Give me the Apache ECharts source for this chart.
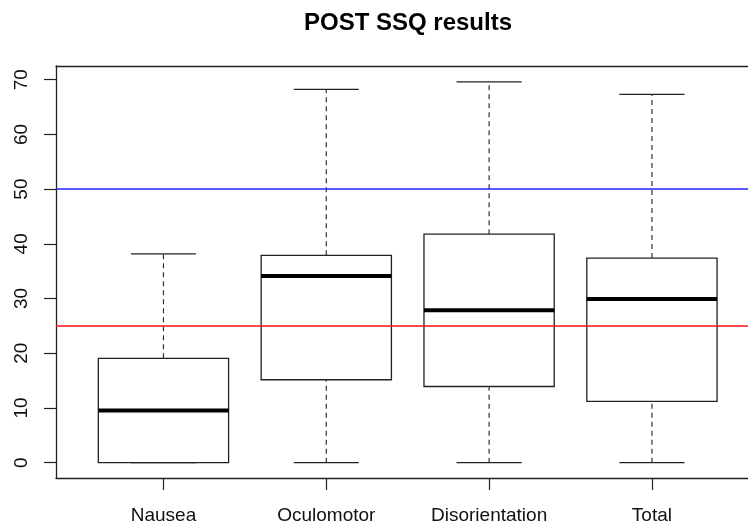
<!DOCTYPE html>
<html>
<head>
<meta charset="utf-8">
<script src="https://cdn.jsdelivr.net/npm/echarts@6/dist/echarts.min.js"></script>
<style>
  html, body { margin: 0; padding: 0; background: #fff; }
  #chart { width: 748px; height: 527px; }
</style>
</head>
<body>
<div id="chart"></div>
<script>
// SSQ subscale scores after exposure
const categories = ['Nausea', 'Oculomotor', 'Disorientation', 'Total'];
const whiskerLow  = [0, 0, 0, 0];
const lowerQuart  = [0, 15.16, 13.92, 11.22];
const medians     = [9.54, 34.11, 27.84, 29.92];
const upperQuart  = [19.08, 37.9, 41.76, 37.4];
const whiskerHigh = [38.16, 68.22, 69.6, 67.32];

// reference thresholds
const thresholdHigh = 50;
const thresholdLow = 25;

// axis tick values
const yTicks = [0, 10, 20, 30, 40, 50, 60, 70];
const xTicks = [1, 2, 3, 4];

const FONT = "'Liberation Sans', Arial, sans-serif";
const INK = '#222';

const rows = categories.map((c, i) => [i + 1, whiskerLow[i], lowerQuart[i], medians[i], upperQuart[i], whiskerHigh[i]]);

function renderBox(params, api) {
  const x = api.value(0);
  const lo = api.coord([x, api.value(1)]);
  const q1 = api.coord([x, api.value(2)]);
  const md = api.coord([x, api.value(3)]);
  const q3 = api.coord([x, api.value(4)]);
  const hi = api.coord([x, api.value(5)]);
  const boxW = api.size([0.8, 0])[0];
  const capW = boxW / 2;
  const cx = lo[0];
  const dashed = { stroke: '#333', lineWidth: 1.2, lineDash: [5, 4] };
  const solid = { stroke: INK, lineWidth: 1.3 };
  return {
    type: 'group',
    children: [
      { type: 'line', shape: { x1: cx, y1: q3[1], x2: cx, y2: hi[1] }, style: dashed },
      { type: 'line', shape: { x1: cx, y1: lo[1], x2: cx, y2: q1[1] }, style: dashed },
      { type: 'line', shape: { x1: cx - capW / 2, y1: hi[1], x2: cx + capW / 2, y2: hi[1] }, style: solid },
      { type: 'line', shape: { x1: cx - capW / 2, y1: lo[1], x2: cx + capW / 2, y2: lo[1] }, style: solid },
      { type: 'rect', shape: { x: cx - boxW / 2, y: q3[1], width: boxW, height: q1[1] - q3[1] },
        style: { fill: '#fff', stroke: INK, lineWidth: 1.3 } },
      { type: 'line', shape: { x1: cx - boxW / 2, y1: md[1], x2: cx + boxW / 2, y2: md[1] },
        style: { stroke: '#000', lineWidth: 4 } }
    ]
  };
}

const X_MIN = 0.34, X_MAX = 4.59;
const frameLine = { show: true, onZero: false, lineStyle: { color: INK, width: 1.3 } };

const chart = echarts.init(document.getElementById('chart'), null, { renderer: 'canvas' });
chart.setOption({
  animation: false,
  backgroundColor: '#fff',
  title: {
    text: 'POST SSQ results',
    left: 403,
    textAlign: 'center',
    top: 6,
    textStyle: { fontFamily: FONT, fontSize: 24, fontWeight: 'bold', color: '#000' }
  },
  grid: { left: 56, right: 0, top: 66, bottom: 49, show: false },
  xAxis: [
    {
      type: 'value', min: X_MIN, max: X_MAX, position: 'bottom',
      splitLine: { show: false },
      axisLine: frameLine,
      axisTick: { show: true, customValues: xTicks, length: 12, lineStyle: { color: INK, width: 1.2 } },
      axisLabel: {
        customValues: xTicks, margin: 28,
        formatter: v => categories[Math.round(v) - 1] || '',
        fontFamily: FONT, fontSize: 19, color: '#111'
      }
    },
    {
      // top edge of the plot frame
      type: 'value', min: X_MIN, max: X_MAX, position: 'top',
      splitLine: { show: false },
      axisLine: frameLine,
      axisTick: { show: false },
      axisLabel: { show: false }
    }
  ],
  yAxis: {
    type: 'value', min: -2.8, max: 72.5,
    splitLine: { show: false },
    axisLine: frameLine,
    axisTick: { show: true, customValues: yTicks, length: 12, lineStyle: { color: INK, width: 1.2 } },
    axisLabel: {
      customValues: yTicks, rotate: 90, margin: 25,
      fontFamily: FONT, fontSize: 19, color: '#111'
    }
  },
  series: [
    {
      type: 'custom',
      z: 2,
      data: rows,
      encode: { x: 0, y: [1, 2, 3, 4, 5] },
      renderItem: renderBox,
      silent: true
    },
    {
      type: 'line',
      z: 5,
      data: [],
      silent: true,
      markLine: {
        silent: true,
        symbol: ['none', 'none'],
        label: { show: false },
        animation: false,
        data: [
          { yAxis: thresholdHigh, lineStyle: { color: '#2222ff', width: 1.5, type: 'solid' } },
          { yAxis: thresholdLow, lineStyle: { color: '#ff1111', width: 1.5, type: 'solid' } }
        ]
      }
    }
  ]
});
</script>
</body>
</html>
